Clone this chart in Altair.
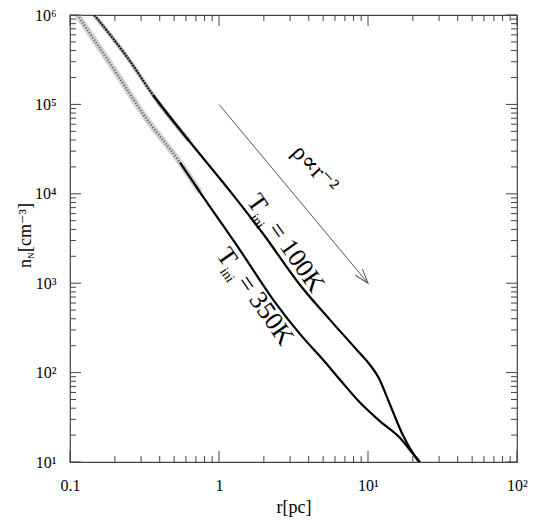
import altair as alt
import pandas as pd

# ---------------- data ----------------
# T_ini = 100K curve (upper)
r_100K = [0.1455, 0.2512, 0.3622, 0.631, 1.186, 1.982, 3.499, 5.559, 8.395,
          10.30, 11.72, 14.06, 17.26, 20.37, 21.98]
n_100K = [1.0e6, 3.09e5, 1.259e5, 3.89e4, 1.072e4, 3548, 955, 389, 180.3,
          122.5, 89.1, 43.7, 19.5, 12.0, 10.0]
# T_ini = 350K curve (lower)
r_350K = [0.1122, 0.1995, 0.3105, 0.547, 0.7447, 1.384, 2.312, 3.499, 5.012,
          6.486, 8.831, 12.05, 16.41, 20.37, 22.39]
n_350K = [1.0e6, 2.399e5, 7.76e4, 2.239e4, 1.047e4, 2344, 651.6, 269.2, 138.0,
          83.2, 46.2, 28.5, 18.6, 12.0, 10.0]

# rho ~ r^-2 guide arrow
arrow_r = [1.0, 10.0]
arrow_n = [1.0e5, 1.0e3]

# axis ticks and labels
x_major = [0.1, 1, 10, 100]
x_labels = ["0.1", "1", "10\u00b9", "10\u00b2"]
x_minor = [0.2, 0.3, 0.4, 0.5, 0.6, 0.7, 0.8, 0.9,
           2, 3, 4, 5, 6, 7, 8, 9,
           20, 30, 40, 50, 60, 70, 80, 90]
y_major = [1e1, 1e2, 1e3, 1e4, 1e5, 1e6]
y_labels = ["10\u00b9", "10\u00b2", "10\u00b3", "10\u2074", "10\u2075", "10\u2076"]
y_minor = [m * d for d in (1e1, 1e2, 1e3, 1e4, 1e5) for m in range(2, 10)]

# annotation anchors (data coordinates) and texts
lab100 = {"r": 1.80, "n": 7870}
lab350 = {"r": 1.13, "n": 1970}
labrho = {"r": 4.40, "n": 18900}
txt_T = "T"
txt_sub = "ini"
txt_100 = "= 100K"
txt_350 = "= 350K"
txt_rho = "\u03c1\u221dr\u207b\u00b2"
x_title = "r[pc]"
y_title_main = "n"
y_title_sub = "N"
y_title_rest = "[cm\u207b\u00b3]"

# ---------------- chart ----------------
W, H = 447, 447
FONT = "Liberation Serif, DejaVu Serif, serif"
TICKC = "#444444"


def lab_expr(vals, labs):
    e = "''"
    for v, l in reversed(list(zip(vals, labs))):
        e = f"datum.value == {v} ? '{l}' : {e}"
    return e


xs = alt.Scale(type="log", domain=[0.1, 100], nice=False)
ys = alt.Scale(type="log", domain=[10, 1e6], nice=False)
xax = alt.Axis(values=x_major, labelExpr=lab_expr(x_major, x_labels), title=x_title,
               ticks=False, domain=False, grid=False, labelFlush=False,
               labelFont=FONT, labelFontSize=16, labelColor="black", labelPadding=15,
               titleFont=FONT, titleFontSize=18, titleFontWeight="normal",
               titleColor="black", titlePadding=5)
yax = alt.Axis(values=y_major, labelExpr=lab_expr(y_major, y_labels), title=None,
               ticks=False, domain=False, grid=False, labelFlush=False,
               labelFont=FONT, labelFontSize=16, labelColor="black", labelPadding=14)


def X():
    return alt.X("r:Q", scale=xs, axis=xax)


def Y():
    return alt.Y("n:Q", scale=ys, axis=yax)


curves = pd.concat([
    pd.DataFrame({"r": r_100K, "n": n_100K, "curve": "100K"}),
    pd.DataFrame({"r": r_350K, "n": n_350K, "curve": "350K"}),
])
base = alt.Chart(curves)

fuzzy_low = base.transform_filter("datum.curve == '350K' && datum.r <= 0.75")
fuzzy_up = base.transform_filter("datum.curve == '100K' && datum.r <= 0.64")
solid = base.transform_filter(
    "(datum.curve == '350K' && datum.r >= 0.54) || (datum.curve == '100K' && datum.r >= 0.36)")

INTERP = "monotone"
layers = []
layers.append(fuzzy_low.mark_line(color="#c4c4c4", strokeWidth=6, opacity=0.8, clip=True,
                                  interpolate=INTERP)
              .encode(x=X(), y=Y(), detail="curve:N"))
layers.append(fuzzy_low.mark_line(color="#444444", strokeWidth=2, strokeDash=[1, 2], clip=True,
                                  interpolate=INTERP)
              .encode(x=X(), y=Y(), detail="curve:N"))
layers.append(fuzzy_up.mark_line(color="#a0a0a0", strokeWidth=4, opacity=0.8, clip=True,
                                 interpolate=INTERP)
              .encode(x=X(), y=Y(), detail="curve:N"))
layers.append(fuzzy_up.mark_line(color="#111111", strokeWidth=2, strokeDash=[2, 1], clip=True,
                                 interpolate=INTERP)
              .encode(x=X(), y=Y(), detail="curve:N"))
layers.append(solid.mark_line(color="black", strokeWidth=2.2, clip=True, interpolate=INTERP)
              .encode(x=X(), y=Y(), detail="curve:N"))

# arrow
arrow = pd.DataFrame({"r": arrow_r, "n": arrow_n})
layers.append(alt.Chart(arrow).mark_line(color="#555555", strokeWidth=1)
              .encode(x=X(), y=Y()))
layers.append(alt.Chart(arrow.iloc[[1]]).mark_point(
    shape="M-1,-0.33L0,0L-1,0.33", filled=False, size=820, angle=50.2,
    stroke="#555555", strokeWidth=1, opacity=1).encode(x=X(), y=Y()))

# ticks (inward, on all four sides)
xmaj = pd.DataFrame({"r": x_major})
xmin = pd.DataFrame({"r": x_minor})
ymaj = pd.DataFrame({"n": y_major})
ymin = pd.DataFrame({"n": y_minor})
for df, ln in ((xmaj, 11), (xmin, 6)):
    layers.append(alt.Chart(df).mark_rule(color=TICKC, strokeWidth=1)
                  .encode(x=X(), y=alt.value(H), y2=alt.value(H - ln)))
    layers.append(alt.Chart(df).mark_rule(color=TICKC, strokeWidth=1)
                  .encode(x=X(), y=alt.value(0), y2=alt.value(ln)))
for df, ln in ((ymaj, 11), (ymin, 6)):
    layers.append(alt.Chart(df).mark_rule(color=TICKC, strokeWidth=1)
                  .encode(y=Y(), x=alt.value(0), x2=alt.value(ln)))
    layers.append(alt.Chart(df).mark_rule(color=TICKC, strokeWidth=1)
                  .encode(y=Y(), x=alt.value(W), x2=alt.value(W - ln)))

# curve labels
for lab, txt, dxm in ((lab100, txt_100, 27), (lab350, txt_350, 26)):
    d = pd.DataFrame([lab])
    layers.append(alt.Chart(d).mark_text(text=txt_T, font=FONT, fontSize=26, angle=55,
                                         align="center", baseline="middle", color="black")
                  .encode(x=X(), y=Y()))
    layers.append(alt.Chart(d).mark_text(text=txt_sub, font=FONT, fontSize=14, angle=55,
                                         align="center", baseline="middle", color="black",
                                         dx=15, dy=10.5)
                  .encode(x=X(), y=Y()))
    layers.append(alt.Chart(d).mark_text(text=txt, font=FONT, fontSize=26, angle=55,
                                         align="left", baseline="middle", color="black",
                                         dx=dxm, dy=-1)
                  .encode(x=X(), y=Y()))

layers.append(alt.Chart(pd.DataFrame([labrho])).mark_text(
    text=txt_rho, font=FONT, fontSize=24, angle=47, align="center", baseline="middle",
    color="black").encode(x=X(), y=Y()))

# y-axis title composed of pieces (rotated)
one = pd.DataFrame({"k": [0]})
ty = dict(font=FONT, angle=270, align="left", baseline="alphabetic", color="black")
layers.append(alt.Chart(one).mark_text(text=y_title_main, fontSize=18, **ty)
              .encode(x=alt.value(-39), y=alt.value(253)))
layers.append(alt.Chart(one).mark_text(text=y_title_sub, fontSize=9, dx=9, dy=3, **ty)
              .encode(x=alt.value(-39), y=alt.value(253)))
layers.append(alt.Chart(one).mark_text(text=y_title_rest, fontSize=18, dx=16, **ty)
              .encode(x=alt.value(-39), y=alt.value(253)))

chart = alt.layer(*layers).properties(
    width=W, height=H,
    padding={"left": 62, "top": 7, "right": 20, "bottom": 58},
    autosize=alt.AutoSizeParams(type="none"),
    background="white",
).configure_view(stroke="#444444", strokeWidth=1.2)

chart.save("out.html", embed_options={"renderer": "svg", "actions": False})
